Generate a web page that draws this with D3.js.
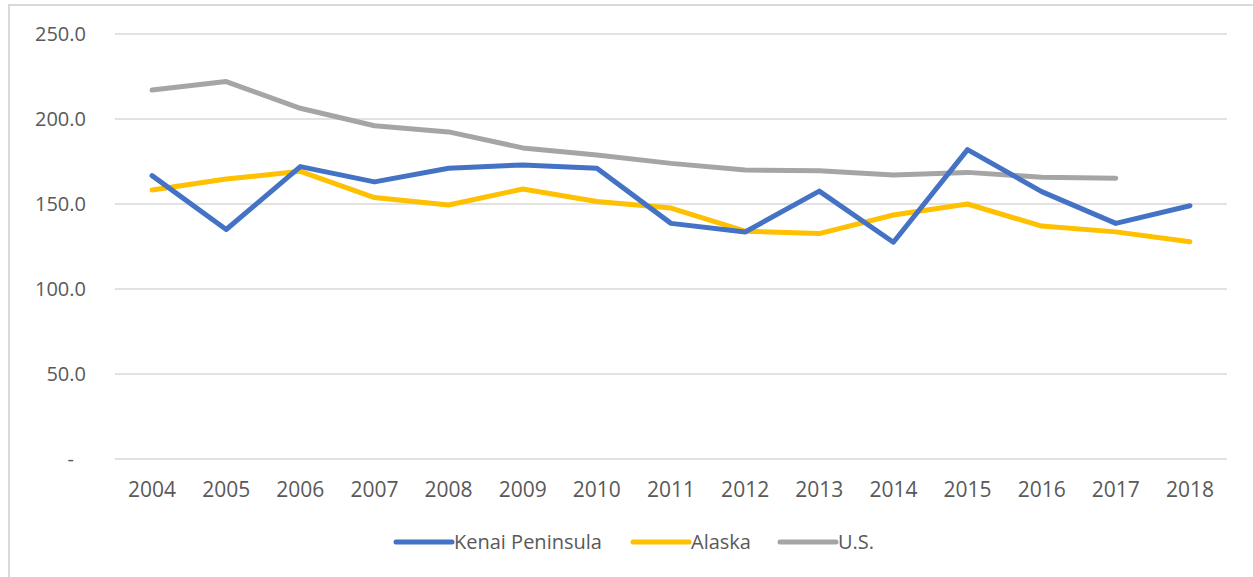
<!DOCTYPE html>
<html>
<head>
<meta charset="utf-8">
<title>Kenai Peninsula, Alaska, U.S.</title>
<style>
  body { margin: 0; background: #ffffff; }
  svg text { font-family: "Open Sans", "Noto Sans", sans-serif; fill: #595959; }
</style>
<script src="https://cdn.jsdelivr.net/npm/d3@7"></script>
</head>
<body>
<svg id="chart" width="1253" height="577"></svg>
<script>
// chart data
var years = ['2004', '2005', '2006', '2007', '2008', '2009', '2010', '2011', '2012', '2013', '2014', '2015', '2016', '2017', '2018'];
var kenai = [166.7, 135.0, 172.0, 163.0, 171.0, 173.0, 171.0, 138.6, 133.5, 157.6, 127.5, 182.0, 157.3, 138.6, 149.0];
var alaska = [158.2, 164.7, 169.2, 153.8, 149.4, 158.8, 151.5, 147.6, 134.0, 132.6, 143.5, 150.0, 137.0, 133.6, 127.8];
var us = [217.0, 222.0, 206.3, 196.0, 192.4, 183.0, 178.8, 173.9, 170.0, 169.5, 167.0, 168.6, 165.7, 165.1, null];
var yTicks = [0, 50, 100, 150, 200, 250];

var seriesNames = ['Kenai Peninsula', 'Alaska', 'U.S.'];
var seriesValues = [kenai, alaska, us];
var colors = ['#4472C4', '#FFC000', '#A5A5A5'];

var svg = d3.select('#chart');

// outer frame like the pasted chart
svg.append('path')
  .attr('d', 'M9,577 V5 H1253')
  .attr('fill', 'none')
  .attr('stroke', '#D9D9D9')
  .attr('stroke-width', 2);

var plot = { left: 115, right: 1227, top: 34, bottom: 459 };

var x = d3.scaleBand().domain(years).range([plot.left, plot.right]);
var y = d3.scaleLinear().domain([0, 250]).range([plot.bottom, plot.top]);

// gridlines
svg.append('g')
  .selectAll('line')
  .data(yTicks)
  .join('line')
  .attr('x1', plot.left).attr('x2', plot.right)
  .attr('y1', function(d){ return y(d); })
  .attr('y2', function(d){ return y(d); })
  .attr('stroke', '#D9D9D9')
  .attr('stroke-width', 1.6);

// y axis labels
var yAxis = d3.axisLeft(y).tickValues(yTicks).tickSize(0).tickPadding(0)
  .tickFormat(function(d){ return d === 0 ? '-' : d3.format('.1f')(d); });
svg.append('g')
  .attr('transform', 'translate(86,0)')
  .call(yAxis)
  .call(function(g){ g.select('.domain').remove(); })
  .selectAll('text')
  .attr('font-size', 20)
  .attr('dx', function(d){ return d === 0 ? -12 : 0; })
  .style('fill', '#595959');

// x axis labels
var xAxis = d3.axisBottom(x).tickSize(0).tickPadding(0);
svg.append('g')
  .attr('transform', 'translate(0,' + (plot.bottom + 23) + ')')
  .call(xAxis)
  .call(function(g){ g.select('.domain').remove(); })
  .selectAll('text')
  .attr('font-size', 21)
  .style('fill', '#595959');

// lines
var line = d3.line()
  .defined(function(d){ return d != null; })
  .x(function(d, i){ return x(years[i]) + x.bandwidth() / 2; })
  .y(function(d){ return y(d); });

// draw in reverse order so Kenai sits on top
for (var s = seriesValues.length - 1; s >= 0; s--) {
  svg.append('path')
    .datum(seriesValues[s])
    .attr('fill', 'none')
    .attr('stroke', colors[s])
    .attr('stroke-width', 5)
    .attr('stroke-linejoin', 'round')
    .attr('stroke-linecap', 'round')
    .attr('d', line);
}

// legend
var legendX = [396, 633, 780];
var legend = svg.append('g');
seriesNames.forEach(function(name, i){
  var g = legend.append('g').attr('transform', 'translate(' + legendX[i] + ',542)');
  g.append('line')
    .attr('x1', 0).attr('x2', 56)
    .attr('stroke', colors[i])
    .attr('stroke-width', 5)
    .attr('stroke-linecap', 'round');
  g.append('text')
    .attr('x', 58)
    .attr('dy', '0.35em')
    .attr('font-size', 20)
    .text(name);
});
</script>
</body>
</html>
